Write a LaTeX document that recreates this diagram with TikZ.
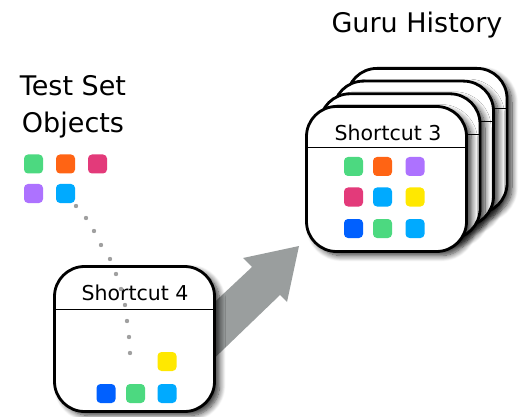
\documentclass[tikz,border=0pt]{standalone}
\usepackage{fontspec}
\setmainfont{DejaVu Sans}
\usetikzlibrary{shadows.blur,calc}
\definecolor{cgreen}{HTML}{4CD980}
\definecolor{corange}{HTML}{FF6414}
\definecolor{cpink}{HTML}{E33A7A}
\definecolor{cpurple}{HTML}{AD72FF}
\definecolor{clblue}{HTML}{00AAFF}
\definecolor{cyellow}{HTML}{FFE800}
\definecolor{cblue}{HTML}{0060FF}
\definecolor{arrowgray}{HTML}{9A9E9E}
\definecolor{dotgray}{HTML}{A0A0A0}
\tikzset{
  card/.style={draw=black, line width=2.8pt, fill=white, rounded corners=30pt,
    minimum width=160pt, minimum height=145pt, inner sep=0pt,
    blur shadow={shadow xshift=5pt, shadow yshift=-4pt, shadow blur steps=10, shadow blur radius=6pt, shadow opacity=80}},
  divider/.style={draw=black, line width=1pt},
  sq/.style={rounded corners=4pt, minimum size=19pt, inner sep=0pt, draw=none},
  title/.style={font=\fontsize{27}{37}\selectfont, align=center},
  cardlabel/.style={font=\fontsize{20.5}{24}\selectfont},
  gdot/.style={fill=dotgray, draw=none}
}
\begin{document}
\begin{tikzpicture}[x=1pt,y=-1pt]
\useasboundingbox (0,0) rectangle (525,417);

% titles
\node[title] (guru) at (417,25) {Guru History};
\node[title] (testset) at (73,106.5) {Test Set\\Objects};

% test set objects
\node[sq, fill=cgreen] (t1) at (33.5,164) {};
\node[sq, fill=corange] (t2) at (65.5,164) {};
\node[sq, fill=cpink] (t3) at (97.5,164) {};
\node[sq, fill=cpurple] (t4) at (33.5,193.5) {};
\node[sq, fill=clblue] (t5) at (65.5,193.5) {};

% big arrow
\fill[arrowgray] (200,372) -- (280,295) -- (287,302) -- (299,246) -- (243,258) -- (252,267) -- (172,342) -- cycle;

% Shortcut 4 card
\node[card] (s4) at (134.5,339) {};
\draw[divider] ($(s4.north west)+(0,44)$) -- ($(s4.north east)+(0,44)$);
\node[cardlabel] (s4t) at (135,293) {Shortcut 4};
\node[sq, fill=cyellow] (a1) at (167,361.5) {};
\node[sq, fill=cblue] (a2) at (106,393.5) {};
\node[sq, fill=cgreen] (a3) at (135.5,393.5) {};
\node[sq, fill=clblue] (a4) at (167,393.5) {};

% dots
\foreach \p in {(76,206),(86,218),(94,231),(101,245),(110,259),(116,274),(121,289),(125,305),(127,321),(129,337),(130,353)}
  \fill[gdot] \p circle (2.2pt);

% Guru history stack
\foreach \k in {3,2,1} {
  \node[card] (g\k) at ($(386.5,179)+(13.5*\k,-12.7*\k)$) {};
  \draw[divider] ($(g\k.north west)+(0,42)$) -- ($(g\k.north east)+(0,42)$);
}
\node[card] (s3) at (386.5,179) {};
\draw[divider] ($(s3.north west)+(0,42)$) -- ($(s3.north east)+(0,42)$);
\node[cardlabel] (s3t) at (388,133) {Shortcut 3};
\node[sq, fill=cgreen] (b1) at (353.5,166.5) {};
\node[sq, fill=corange] (b2) at (382.5,166.5) {};
\node[sq, fill=cpurple] (b3) at (415,166.5) {};
\node[sq, fill=cpink] (b4) at (353.5,197) {};
\node[sq, fill=clblue] (b5) at (382.5,197) {};
\node[sq, fill=cyellow] (b6) at (415,197) {};
\node[sq, fill=cblue] (b7) at (353.5,228.5) {};
\node[sq, fill=cgreen] (b8) at (382.5,228.5) {};
\node[sq, fill=clblue] (b9) at (415,228.5) {};
\end{tikzpicture}
\end{document}
